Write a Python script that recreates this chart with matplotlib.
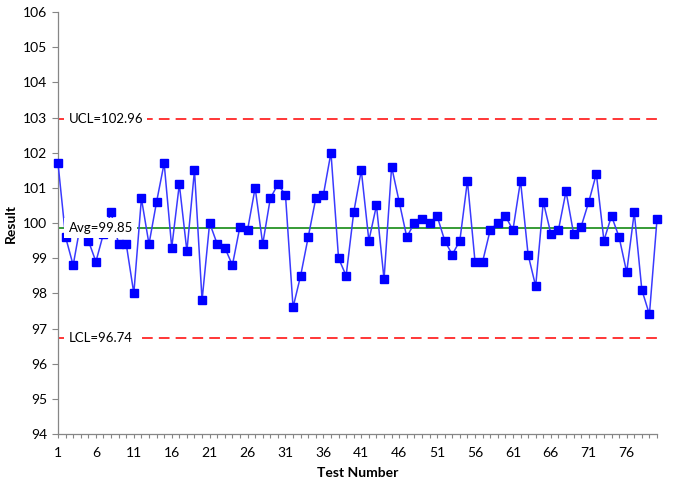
import numpy as np
import matplotlib
matplotlib.use("Agg")
import matplotlib.pyplot as plt
from matplotlib.ticker import MultipleLocator

plt.rcParams['font.family'] = ['Lato', 'DejaVu Sans']

# test results, one per test number
results = [101.7, 99.6, 98.8, 100.0, 99.5, 98.9, 99.7, 100.3, 99.4, 99.4,
           98.0, 100.7, 99.4, 100.6, 101.7, 99.3, 101.1, 99.2, 101.5, 97.8,
           100.0, 99.4, 99.3, 98.8, 99.9, 99.8, 101.0, 99.4, 100.7, 101.1,
           100.8, 97.6, 98.5, 99.6, 100.7, 100.8, 102.0, 99.0, 98.5, 100.3,
           101.5, 99.5, 100.5, 98.4, 101.6, 100.6, 99.6, 100.0, 100.1, 100.0,
           100.2, 99.5, 99.1, 99.5, 101.2, 98.9, 98.9, 99.8, 100.0, 100.2,
           99.8, 101.2, 99.1, 98.2, 100.6, 99.7, 99.8, 100.9, 99.7, 99.9,
           100.6, 101.4, 99.5, 100.2, 99.6, 98.6, 100.3, 98.1, 97.4, 100.1]
test_no = np.arange(1, len(results) + 1)

avg = 99.85
ucl = 102.96
lcl = 96.74

fig = plt.figure(figsize=(6.78, 4.86), dpi=100)
ax = fig.add_axes([58/678, 1 - 434/486, (657 - 58)/678, (434 - 12)/486])

ax.plot(test_no, results, color='#3a3aff', lw=1.1, marker='s', ms=5.2,
        mfc='#0000ff', mec='#0000ff', zorder=3, clip_on=False)

# control lines
ax.plot([test_no[0], test_no[-1]], [ucl, ucl], color='#ff0000', lw=1.1,
        dashes=(7, 4), zorder=2)
ax.plot([test_no[0], test_no[-1]], [lcl, lcl], color='#ff0000', lw=1.1,
        dashes=(7, 4), zorder=2)
ax.plot([test_no[0], test_no[-1]], [avg, avg], color='#008000', lw=1.1, zorder=2)

box = dict(facecolor='white', edgecolor='none', pad=3)
ax.text(2.4, ucl, 'UCL=%.2f' % ucl, fontsize=9.5, va='center', ha='left', bbox=box, zorder=4)
ax.text(2.4, avg, 'Avg=%.2f' % avg, fontsize=9.5, va='center', ha='left', bbox=box, zorder=4)
ax.text(2.4, lcl, 'LCL=%.2f' % lcl, fontsize=9.5, va='center', ha='left', bbox=box, zorder=4)

ax.set_xlim(1, 80)
ax.set_ylim(94, 106)
ax.set_xticks(np.arange(1, 80, 5))
ax.xaxis.set_minor_locator(MultipleLocator(1))
ax.yaxis.set_major_locator(MultipleLocator(1))

for s in ['top', 'right']:
    ax.spines[s].set_visible(False)
for s in ['left', 'bottom']:
    ax.spines[s].set_color('#868686')
    ax.spines[s].set_linewidth(0.9)

ax.tick_params(axis='both', which='both', color='#868686', labelsize=10, width=0.8)
ax.tick_params(axis='x', which='major', length=3, pad=6)
ax.tick_params(axis='x', which='minor', length=3)
ax.tick_params(axis='y', which='major', length=4, pad=4)

ax.set_xlabel('Test Number', fontsize=10, fontweight='bold', labelpad=6)
ax.set_ylabel('Result', fontsize=10, fontweight='bold', labelpad=4)

fig.savefig('out.png', dpi=100)
